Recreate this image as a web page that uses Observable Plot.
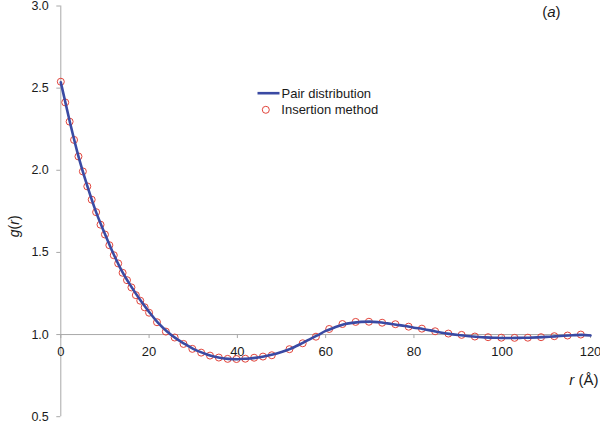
<!DOCTYPE html>
<html><head><meta charset="utf-8">
<script src="https://cdn.jsdelivr.net/npm/d3@7"></script>
<script src="https://cdn.jsdelivr.net/npm/@observablehq/plot@0.6"></script>
<style>
html,body{margin:0;padding:0;background:#fff;}
#chart svg{display:block;}
g[aria-label="y-axis tick"]{stroke:#a8a8a8;}
g[aria-label="y-axis"] .tick line{stroke:#a8a8a8;}
</style></head><body><div id="chart"></div>
<script>
// Pair distribution g(r) (solid line)
const lineR = [0,2,4,6,8,10,12,14,16,18,20,22,24,26,28,30,32,34,36,38,40,42,44,46,48,50,52,54,56,58,60,62,64,66,68,70,72,74,76,78,80,82,84,86,88,90,92,94,96,98,100,102,104,106,108,110,112,114,116,118,120];
const lineG = [2.535,2.30,2.085,1.905,1.745,1.612,1.487,1.378,1.29,1.21,1.138,1.072,1.02,0.978,0.944,0.913,0.89,0.871,0.859,0.852,0.85,0.853,0.858,0.866,0.878,0.894,0.913,0.938,0.966,0.993,1.022,1.043,1.061,1.071,1.077,1.079,1.075,1.068,1.06,1.052,1.042,1.034,1.024,1.013,1.004,0.997,0.991,0.987,0.983,0.981,0.979,0.979,0.98,0.981,0.983,0.986,0.989,0.993,0.996,0.998,0.994];
// Insertion method (open circles)
const circR = [0,1,2,3,4,5,6,7,8,9,10,11,12,13,14,15,16,17,18,19,20,21.8,23.8,25.8,27.8,29.8,31.8,33.8,35.8,37.8,39.8,41.8,43.8,45.8,47.8,51.8,54.8,57.8,60.8,63.8,66.8,69.8,72.8,75.8,78.8,81.8,84.8,87.8,90.8,93.8,96.8,99.8,102.8,105.8,108.8,111.8,114.8,117.8];
const circG = [2.539,2.413,2.296,2.185,2.084,1.993,1.902,1.821,1.745,1.669,1.609,1.544,1.483,1.433,1.376,1.331,1.287,1.240,1.206,1.166,1.133,1.075,1.018,0.982,0.943,0.913,0.89,0.872,0.86,0.852,0.851,0.853,0.859,0.866,0.874,0.911,0.947,0.987,1.034,1.064,1.077,1.078,1.072,1.063,1.048,1.036,1.02,1.006,0.998,0.988,0.984,0.981,0.98,0.981,0.984,0.99,0.994,1.0];
const xTicks = [0,20,40,60,80,100,120];
const yTicks = [0.5,1.0,1.5,2.0,2.5,3.0];
const legendLabels = ["Pair distribution","Insertion method"];

const lineData = lineR.map((r,i)=>({r, g: lineG[i]}));
const circData = circR.map((r,i)=>({r, g: circG[i]}));
const AXIS="#a8a8a8", TEXT="#1a1a1a", BLUE="#3a4aa3", RED="#e2453c";
const font = "'Liberation Sans', Arial, Helvetica, sans-serif";
const lineSym = {draw(ctx){ctx.moveTo(-11,0); ctx.lineTo(11,0);}};

const plot = Plot.plot({
  width:600, height:423,
  marginLeft:60.3, marginRight:10, marginTop:5.5, marginBottom:6.8,
  style:{fontFamily:font, fontSize:"12.5px", color:TEXT, background:"#fff", overflow:"visible"},
  x:{domain:[0,120], axis:null},
  y:{domain:[0.5,3.0], ticks:yTicks, tickFormat:d3.format(".1f"), tickSize:4, tickPadding:8, label:null},
  marks:[
    Plot.ruleX([0], {stroke:AXIS}),
    Plot.ruleY([1], {stroke:AXIS}),
    Plot.ruleX(xTicks, {x:d=>d, y1:1, y2:1, insetBottom:-4, stroke:AXIS}),
    Plot.text(xTicks, {x:d=>d, y:1, dy:17, text:d=>String(d), fill:TEXT, fontSize:13}),
    Plot.dot(circData, {x:"r", y:"g", r:3.5, stroke:RED, strokeWidth:1, fill:"none"}),
    Plot.line(lineData, {x:"r", y:"g", stroke:BLUE, strokeWidth:2.6, curve:"monotone-x"}),
    Plot.dot([legendLabels[0]], {frameAnchor:"top-left", dx:207.7, dy:87.2, symbol:lineSym, stroke:BLUE, strokeWidth:2.6}),
    Plot.text([legendLabels[0]], {frameAnchor:"top-left", dx:220.7, dy:87.5, lineAnchor:"middle", text:d=>d, textAnchor:"start", fill:TEXT, fontSize:13}),
    Plot.dot([legendLabels[1]], {frameAnchor:"top-left", dx:205, dy:103.8, r:3.5, stroke:RED, strokeWidth:1, fill:"none"}),
    Plot.text([legendLabels[1]], {frameAnchor:"top-left", dx:220.5, dy:104, lineAnchor:"middle", text:d=>d, textAnchor:"start", fill:TEXT, fontSize:13}),
    Plot.text(["g(r)"], {frameAnchor:"left", dx:-46, dy:15, rotate:-90, textAnchor:"middle", lineAnchor:"middle", text:d=>d, fill:TEXT, fontSize:14, className:"ylab"}),
    Plot.text(["r (Å)"], {frameAnchor:"bottom-right", dx:8, dy:-37, lineAnchor:"middle", textAnchor:"end", text:d=>d, fill:TEXT, fontSize:15, className:"xlab"}),
    Plot.text(["(a)"], {frameAnchor:"top-right", dx:-30, dy:6.5, lineAnchor:"middle", textAnchor:"end", text:d=>d, fill:TEXT, fontSize:15, className:"tag"})
  ]
});
document.getElementById("chart").append(plot);
const it = s => `<tspan font-style="italic">${s}</tspan>`;
plot.querySelectorAll(".ylab text").forEach(t => t.innerHTML = it("g") + "(" + it("r") + ")");
plot.querySelectorAll(".xlab text").forEach(t => t.innerHTML = it("r") + " (Å)");
plot.querySelectorAll(".tag text").forEach(t => t.innerHTML = "(" + it("a") + ")");
</script></body></html>
